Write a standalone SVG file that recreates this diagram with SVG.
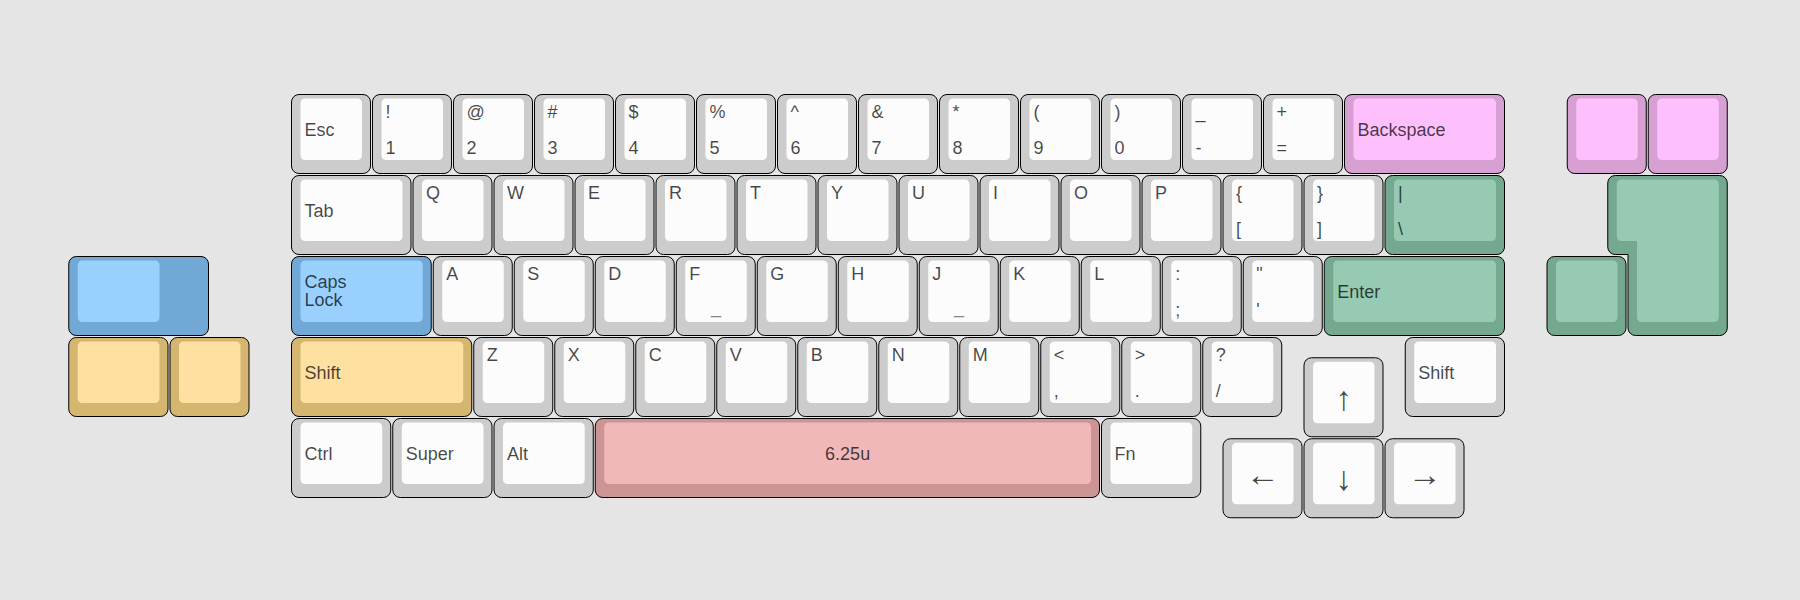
<svg xmlns="http://www.w3.org/2000/svg" width="1800" height="600" viewBox="0 0 1800 600">
<style>
.o{stroke:#000;stroke-width:1;rx:7.5px;ry:7.5px}
.i{rx:4.5px;ry:4.5px}
.p{stroke:#000;stroke-width:1}
.gy .o{fill:#cccccc}.gy .i{fill:#fcfcfc}
.bl .o,.bl .p{fill:#72a8d6}.bl .i{fill:#99d0fd}
.ye .o{fill:#d5b670}.ye .i{fill:#fee0a0}
.pk .o{fill:#d6a0d3}.pk .i{fill:#fdc0fc}
.gr .o,.gr .p{fill:#74a88f}.gr .i{fill:#96cab2}
.rd .o{fill:#cc9494}.rd .i{fill:#f0b8b8}
text{font-family:"Liberation Sans",Arial,Helvetica,sans-serif;font-size:18px;fill:#000;fill-opacity:.72}
.c{text-anchor:middle}
.ar{font-size:34px;text-anchor:middle}
.hm{fill:#888;fill-opacity:1;text-anchor:middle}
</style>
<rect width="1800" height="600" fill="#e5e5e5"/>

<!-- Row 0 -->
<g id="key-esc" class="gy" transform="translate(291,94)"><rect class="o" x="0.5" y="0.5" width="79" height="79"/><rect class="i" x="9.5" y="4.5" width="61.5" height="61.5"/><text x="13.5" y="42">Esc</text></g>
<g id="key-1" class="gy" transform="translate(372,94)"><rect class="o" x="0.5" y="0.5" width="79" height="79"/><rect class="i" x="9.5" y="4.5" width="61.5" height="61.5"/><text x="13.5" y="24">!</text><text x="13.5" y="60">1</text></g>
<g id="key-2" class="gy" transform="translate(453,94)"><rect class="o" x="0.5" y="0.5" width="79" height="79"/><rect class="i" x="9.5" y="4.5" width="61.5" height="61.5"/><text x="13.5" y="24">@</text><text x="13.5" y="60">2</text></g>
<g id="key-3" class="gy" transform="translate(534,94)"><rect class="o" x="0.5" y="0.5" width="79" height="79"/><rect class="i" x="9.5" y="4.5" width="61.5" height="61.5"/><text x="13.5" y="24">#</text><text x="13.5" y="60">3</text></g>
<g id="key-4" class="gy" transform="translate(615,94)"><rect class="o" x="0.5" y="0.5" width="79" height="79"/><rect class="i" x="9.5" y="4.5" width="61.5" height="61.5"/><text x="13.5" y="24">$</text><text x="13.5" y="60">4</text></g>
<g id="key-5" class="gy" transform="translate(696,94)"><rect class="o" x="0.5" y="0.5" width="79" height="79"/><rect class="i" x="9.5" y="4.5" width="61.5" height="61.5"/><text x="13.5" y="24">%</text><text x="13.5" y="60">5</text></g>
<g id="key-6" class="gy" transform="translate(777,94)"><rect class="o" x="0.5" y="0.5" width="79" height="79"/><rect class="i" x="9.5" y="4.5" width="61.5" height="61.5"/><text x="13.5" y="24">^</text><text x="13.5" y="60">6</text></g>
<g id="key-7" class="gy" transform="translate(858,94)"><rect class="o" x="0.5" y="0.5" width="79" height="79"/><rect class="i" x="9.5" y="4.5" width="61.5" height="61.5"/><text x="13.5" y="24">&amp;</text><text x="13.5" y="60">7</text></g>
<g id="key-8" class="gy" transform="translate(939,94)"><rect class="o" x="0.5" y="0.5" width="79" height="79"/><rect class="i" x="9.5" y="4.5" width="61.5" height="61.5"/><text x="13.5" y="24">*</text><text x="13.5" y="60">8</text></g>
<g id="key-9" class="gy" transform="translate(1020,94)"><rect class="o" x="0.5" y="0.5" width="79" height="79"/><rect class="i" x="9.5" y="4.5" width="61.5" height="61.5"/><text x="13.5" y="24">(</text><text x="13.5" y="60">9</text></g>
<g id="key-0" class="gy" transform="translate(1101,94)"><rect class="o" x="0.5" y="0.5" width="79" height="79"/><rect class="i" x="9.5" y="4.5" width="61.5" height="61.5"/><text x="13.5" y="24">)</text><text x="13.5" y="60">0</text></g>
<g id="key-minus" class="gy" transform="translate(1182,94)"><rect class="o" x="0.5" y="0.5" width="79" height="79"/><rect class="i" x="9.5" y="4.5" width="61.5" height="61.5"/><text x="13.5" y="24">_</text><text x="13.5" y="60">-</text></g>
<g id="key-equal" class="gy" transform="translate(1263,94)"><rect class="o" x="0.5" y="0.5" width="79" height="79"/><rect class="i" x="9.5" y="4.5" width="61.5" height="61.5"/><text x="13.5" y="24">+</text><text x="13.5" y="60">=</text></g>
<g id="key-backspace" class="pk" transform="translate(1344,94)"><rect class="o" x="0.5" y="0.5" width="160" height="79"/><rect class="i" x="9.5" y="4.5" width="142.5" height="61.5"/><text x="13.5" y="42">Backspace</text></g>
<g id="key-extra-pink-1" class="pk" transform="translate(1566.75,94)"><rect class="o" x="0.5" y="0.5" width="79" height="79"/><rect class="i" x="9.5" y="4.5" width="61.5" height="61.5"/></g>
<g id="key-extra-pink-2" class="pk" transform="translate(1647.75,94)"><rect class="o" x="0.5" y="0.5" width="79" height="79"/><rect class="i" x="9.5" y="4.5" width="61.5" height="61.5"/></g>

<!-- Row 1 -->
<g id="key-tab" class="gy" transform="translate(291,175)"><rect class="o" x="0.5" y="0.5" width="119.5" height="79"/><rect class="i" x="9.5" y="4.5" width="102" height="61.5"/><text x="13.5" y="42">Tab</text></g>
<g id="key-q" class="gy" transform="translate(412.5,175)"><rect class="o" x="0.5" y="0.5" width="79" height="79"/><rect class="i" x="9.5" y="4.5" width="61.5" height="61.5"/><text x="13.5" y="24">Q</text></g>
<g id="key-w" class="gy" transform="translate(493.5,175)"><rect class="o" x="0.5" y="0.5" width="79" height="79"/><rect class="i" x="9.5" y="4.5" width="61.5" height="61.5"/><text x="13.5" y="24">W</text></g>
<g id="key-e" class="gy" transform="translate(574.5,175)"><rect class="o" x="0.5" y="0.5" width="79" height="79"/><rect class="i" x="9.5" y="4.5" width="61.5" height="61.5"/><text x="13.5" y="24">E</text></g>
<g id="key-r" class="gy" transform="translate(655.5,175)"><rect class="o" x="0.5" y="0.5" width="79" height="79"/><rect class="i" x="9.5" y="4.5" width="61.5" height="61.5"/><text x="13.5" y="24">R</text></g>
<g id="key-t" class="gy" transform="translate(736.5,175)"><rect class="o" x="0.5" y="0.5" width="79" height="79"/><rect class="i" x="9.5" y="4.5" width="61.5" height="61.5"/><text x="13.5" y="24">T</text></g>
<g id="key-y" class="gy" transform="translate(817.5,175)"><rect class="o" x="0.5" y="0.5" width="79" height="79"/><rect class="i" x="9.5" y="4.5" width="61.5" height="61.5"/><text x="13.5" y="24">Y</text></g>
<g id="key-u" class="gy" transform="translate(898.5,175)"><rect class="o" x="0.5" y="0.5" width="79" height="79"/><rect class="i" x="9.5" y="4.5" width="61.5" height="61.5"/><text x="13.5" y="24">U</text></g>
<g id="key-i" class="gy" transform="translate(979.5,175)"><rect class="o" x="0.5" y="0.5" width="79" height="79"/><rect class="i" x="9.5" y="4.5" width="61.5" height="61.5"/><text x="13.5" y="24">I</text></g>
<g id="key-o" class="gy" transform="translate(1060.5,175)"><rect class="o" x="0.5" y="0.5" width="79" height="79"/><rect class="i" x="9.5" y="4.5" width="61.5" height="61.5"/><text x="13.5" y="24">O</text></g>
<g id="key-p" class="gy" transform="translate(1141.5,175)"><rect class="o" x="0.5" y="0.5" width="79" height="79"/><rect class="i" x="9.5" y="4.5" width="61.5" height="61.5"/><text x="13.5" y="24">P</text></g>
<g id="key-lbracket" class="gy" transform="translate(1222.5,175)"><rect class="o" x="0.5" y="0.5" width="79" height="79"/><rect class="i" x="9.5" y="4.5" width="61.5" height="61.5"/><text x="13.5" y="24">{</text><text x="13.5" y="60">[</text></g>
<g id="key-rbracket" class="gy" transform="translate(1303.5,175)"><rect class="o" x="0.5" y="0.5" width="79" height="79"/><rect class="i" x="9.5" y="4.5" width="61.5" height="61.5"/><text x="13.5" y="24">}</text><text x="13.5" y="60">]</text></g>
<g id="key-backslash" class="gr" transform="translate(1384.5,175)"><rect class="o" x="0.5" y="0.5" width="119.5" height="79"/><rect class="i" x="9.5" y="4.5" width="102" height="61.5"/><text x="13.5" y="24">|</text><text x="13.5" y="60">\</text></g>
<g id="key-extra-iso-enter" class="gr"><path class="p" d="M1615.25,175.5H1719.75A7.5,7.5 0 0 1 1727.25,183V328A7.5,7.5 0 0 1 1719.75,335.5H1635.5A7.5,7.5 0 0 1 1628,328V254.5H1615.25A7.5,7.5 0 0 1 1607.75,247V183A7.5,7.5 0 0 1 1615.25,175.5Z"/><path class="i" fill="#96cab2" d="M1621.25,179.5H1714.25A4.5,4.5 0 0 1 1718.75,184V317.5A4.5,4.5 0 0 1 1714.25,322H1641.5A4.5,4.5 0 0 1 1637,317.5V241H1621.25A4.5,4.5 0 0 1 1616.75,236.5V184A4.5,4.5 0 0 1 1621.25,179.5Z"/></g>

<!-- Row 2 -->
<g id="key-extra-stepped" class="bl" transform="translate(68.25,256)"><rect class="o" x="0.5" y="0.5" width="139.75" height="79"/><rect class="i" x="9.5" y="4.5" width="81.75" height="61.5"/></g>
<g id="key-capslock" class="bl" transform="translate(291,256)"><rect class="o" x="0.5" y="0.5" width="139.75" height="79"/><rect class="i" x="9.5" y="4.5" width="122.25" height="61.5"/><text x="13.5" y="32.3">Caps</text><text x="13.5" y="50">Lock</text></g>
<g id="key-a" class="gy" transform="translate(432.75,256)"><rect class="o" x="0.5" y="0.5" width="79" height="79"/><rect class="i" x="9.5" y="4.5" width="61.5" height="61.5"/><text x="13.5" y="24">A</text></g>
<g id="key-s" class="gy" transform="translate(513.75,256)"><rect class="o" x="0.5" y="0.5" width="79" height="79"/><rect class="i" x="9.5" y="4.5" width="61.5" height="61.5"/><text x="13.5" y="24">S</text></g>
<g id="key-d" class="gy" transform="translate(594.75,256)"><rect class="o" x="0.5" y="0.5" width="79" height="79"/><rect class="i" x="9.5" y="4.5" width="61.5" height="61.5"/><text x="13.5" y="24">D</text></g>
<g id="key-f" class="gy" transform="translate(675.75,256)"><rect class="o" x="0.5" y="0.5" width="79" height="79"/><rect class="i" x="9.5" y="4.5" width="61.5" height="61.5"/><text x="13.5" y="24">F</text><text class="hm" x="40.25" y="56.5">_</text></g>
<g id="key-g" class="gy" transform="translate(756.75,256)"><rect class="o" x="0.5" y="0.5" width="79" height="79"/><rect class="i" x="9.5" y="4.5" width="61.5" height="61.5"/><text x="13.5" y="24">G</text></g>
<g id="key-h" class="gy" transform="translate(837.75,256)"><rect class="o" x="0.5" y="0.5" width="79" height="79"/><rect class="i" x="9.5" y="4.5" width="61.5" height="61.5"/><text x="13.5" y="24">H</text></g>
<g id="key-j" class="gy" transform="translate(918.75,256)"><rect class="o" x="0.5" y="0.5" width="79" height="79"/><rect class="i" x="9.5" y="4.5" width="61.5" height="61.5"/><text x="13.5" y="24">J</text><text class="hm" x="40.25" y="56.5">_</text></g>
<g id="key-k" class="gy" transform="translate(999.75,256)"><rect class="o" x="0.5" y="0.5" width="79" height="79"/><rect class="i" x="9.5" y="4.5" width="61.5" height="61.5"/><text x="13.5" y="24">K</text></g>
<g id="key-l" class="gy" transform="translate(1080.75,256)"><rect class="o" x="0.5" y="0.5" width="79" height="79"/><rect class="i" x="9.5" y="4.5" width="61.5" height="61.5"/><text x="13.5" y="24">L</text></g>
<g id="key-semicolon" class="gy" transform="translate(1161.75,256)"><rect class="o" x="0.5" y="0.5" width="79" height="79"/><rect class="i" x="9.5" y="4.5" width="61.5" height="61.5"/><text x="13.5" y="24">:</text><text x="13.5" y="60">;</text></g>
<g id="key-quote" class="gy" transform="translate(1242.75,256)"><rect class="o" x="0.5" y="0.5" width="79" height="79"/><rect class="i" x="9.5" y="4.5" width="61.5" height="61.5"/><text x="13.5" y="24">"</text><text x="13.5" y="60">'</text></g>
<g id="key-enter" class="gr" transform="translate(1323.75,256)"><rect class="o" x="0.5" y="0.5" width="180.25" height="79"/><rect class="i" x="9.5" y="4.5" width="162.75" height="61.5"/><text x="13.5" y="42">Enter</text></g>
<g id="key-extra-green" class="gr" transform="translate(1546.5,256)"><rect class="o" x="0.5" y="0.5" width="79" height="79"/><rect class="i" x="9.5" y="4.5" width="61.5" height="61.5"/></g>

<!-- Row 3 -->
<g id="key-extra-yellow-1" class="ye" transform="translate(68.25,337)"><rect class="o" x="0.5" y="0.5" width="99.25" height="79"/><rect class="i" x="9.5" y="4.5" width="81.75" height="61.5"/></g>
<g id="key-extra-yellow-2" class="ye" transform="translate(169.5,337)"><rect class="o" x="0.5" y="0.5" width="79" height="79"/><rect class="i" x="9.5" y="4.5" width="61.5" height="61.5"/></g>
<g id="key-lshift" class="ye" transform="translate(291,337)"><rect class="o" x="0.5" y="0.5" width="180.25" height="79"/><rect class="i" x="9.5" y="4.5" width="162.75" height="61.5"/><text x="13.5" y="42">Shift</text></g>
<g id="key-z" class="gy" transform="translate(473.25,337)"><rect class="o" x="0.5" y="0.5" width="79" height="79"/><rect class="i" x="9.5" y="4.5" width="61.5" height="61.5"/><text x="13.5" y="24">Z</text></g>
<g id="key-x" class="gy" transform="translate(554.25,337)"><rect class="o" x="0.5" y="0.5" width="79" height="79"/><rect class="i" x="9.5" y="4.5" width="61.5" height="61.5"/><text x="13.5" y="24">X</text></g>
<g id="key-c" class="gy" transform="translate(635.25,337)"><rect class="o" x="0.5" y="0.5" width="79" height="79"/><rect class="i" x="9.5" y="4.5" width="61.5" height="61.5"/><text x="13.5" y="24">C</text></g>
<g id="key-v" class="gy" transform="translate(716.25,337)"><rect class="o" x="0.5" y="0.5" width="79" height="79"/><rect class="i" x="9.5" y="4.5" width="61.5" height="61.5"/><text x="13.5" y="24">V</text></g>
<g id="key-b" class="gy" transform="translate(797.25,337)"><rect class="o" x="0.5" y="0.5" width="79" height="79"/><rect class="i" x="9.5" y="4.5" width="61.5" height="61.5"/><text x="13.5" y="24">B</text></g>
<g id="key-n" class="gy" transform="translate(878.25,337)"><rect class="o" x="0.5" y="0.5" width="79" height="79"/><rect class="i" x="9.5" y="4.5" width="61.5" height="61.5"/><text x="13.5" y="24">N</text></g>
<g id="key-m" class="gy" transform="translate(959.25,337)"><rect class="o" x="0.5" y="0.5" width="79" height="79"/><rect class="i" x="9.5" y="4.5" width="61.5" height="61.5"/><text x="13.5" y="24">M</text></g>
<g id="key-comma" class="gy" transform="translate(1040.25,337)"><rect class="o" x="0.5" y="0.5" width="79" height="79"/><rect class="i" x="9.5" y="4.5" width="61.5" height="61.5"/><text x="13.5" y="24">&lt;</text><text x="13.5" y="60">,</text></g>
<g id="key-period" class="gy" transform="translate(1121.25,337)"><rect class="o" x="0.5" y="0.5" width="79" height="79"/><rect class="i" x="9.5" y="4.5" width="61.5" height="61.5"/><text x="13.5" y="24">&gt;</text><text x="13.5" y="60">.</text></g>
<g id="key-slash" class="gy" transform="translate(1202.25,337)"><rect class="o" x="0.5" y="0.5" width="79" height="79"/><rect class="i" x="9.5" y="4.5" width="61.5" height="61.5"/><text x="13.5" y="24">?</text><text x="13.5" y="60">/</text></g>
<g id="key-up" class="gy" transform="translate(1303.5,357.25)"><rect class="o" x="0.5" y="0.5" width="79" height="79"/><rect class="i" x="9.5" y="4.5" width="61.5" height="61.5"/><text class="ar" x="40.25" y="52.5">↑</text></g>
<g id="key-rshift" class="gy" transform="translate(1404.75,337)"><rect class="o" x="0.5" y="0.5" width="99.25" height="79"/><rect class="i" x="9.5" y="4.5" width="81.75" height="61.5"/><text x="13.5" y="42">Shift</text></g>

<!-- Row 4 -->
<g id="key-ctrl" class="gy" transform="translate(291,418)"><rect class="o" x="0.5" y="0.5" width="99.25" height="79"/><rect class="i" x="9.5" y="4.5" width="81.75" height="61.5"/><text x="13.5" y="42">Ctrl</text></g>
<g id="key-super" class="gy" transform="translate(392.25,418)"><rect class="o" x="0.5" y="0.5" width="99.25" height="79"/><rect class="i" x="9.5" y="4.5" width="81.75" height="61.5"/><text x="13.5" y="42">Super</text></g>
<g id="key-alt" class="gy" transform="translate(493.5,418)"><rect class="o" x="0.5" y="0.5" width="99.25" height="79"/><rect class="i" x="9.5" y="4.5" width="81.75" height="61.5"/><text x="13.5" y="42">Alt</text></g>
<g id="key-space" class="rd" transform="translate(594.75,418)"><rect class="o" x="0.5" y="0.5" width="504.25" height="79"/><rect class="i" x="9.5" y="4.5" width="486.75" height="61.5"/><text class="c" x="252.875" y="42">6.25u</text></g>
<g id="key-fn" class="gy" transform="translate(1101,418)"><rect class="o" x="0.5" y="0.5" width="99.25" height="79"/><rect class="i" x="9.5" y="4.5" width="81.75" height="61.5"/><text x="13.5" y="42">Fn</text></g>
<g id="key-left" class="gy" transform="translate(1222.5,438.25)"><rect class="o" x="0.5" y="0.5" width="79" height="79"/><rect class="i" x="9.5" y="4.5" width="61.5" height="61.5"/><text class="ar" x="40.25" y="48">←</text></g>
<g id="key-down" class="gy" transform="translate(1303.5,438.25)"><rect class="o" x="0.5" y="0.5" width="79" height="79"/><rect class="i" x="9.5" y="4.5" width="61.5" height="61.5"/><text class="ar" x="40.25" y="52">↓</text></g>
<g id="key-right" class="gy" transform="translate(1384.5,438.25)"><rect class="o" x="0.5" y="0.5" width="79" height="79"/><rect class="i" x="9.5" y="4.5" width="61.5" height="61.5"/><text class="ar" x="40.25" y="48">→</text></g>
</svg>
